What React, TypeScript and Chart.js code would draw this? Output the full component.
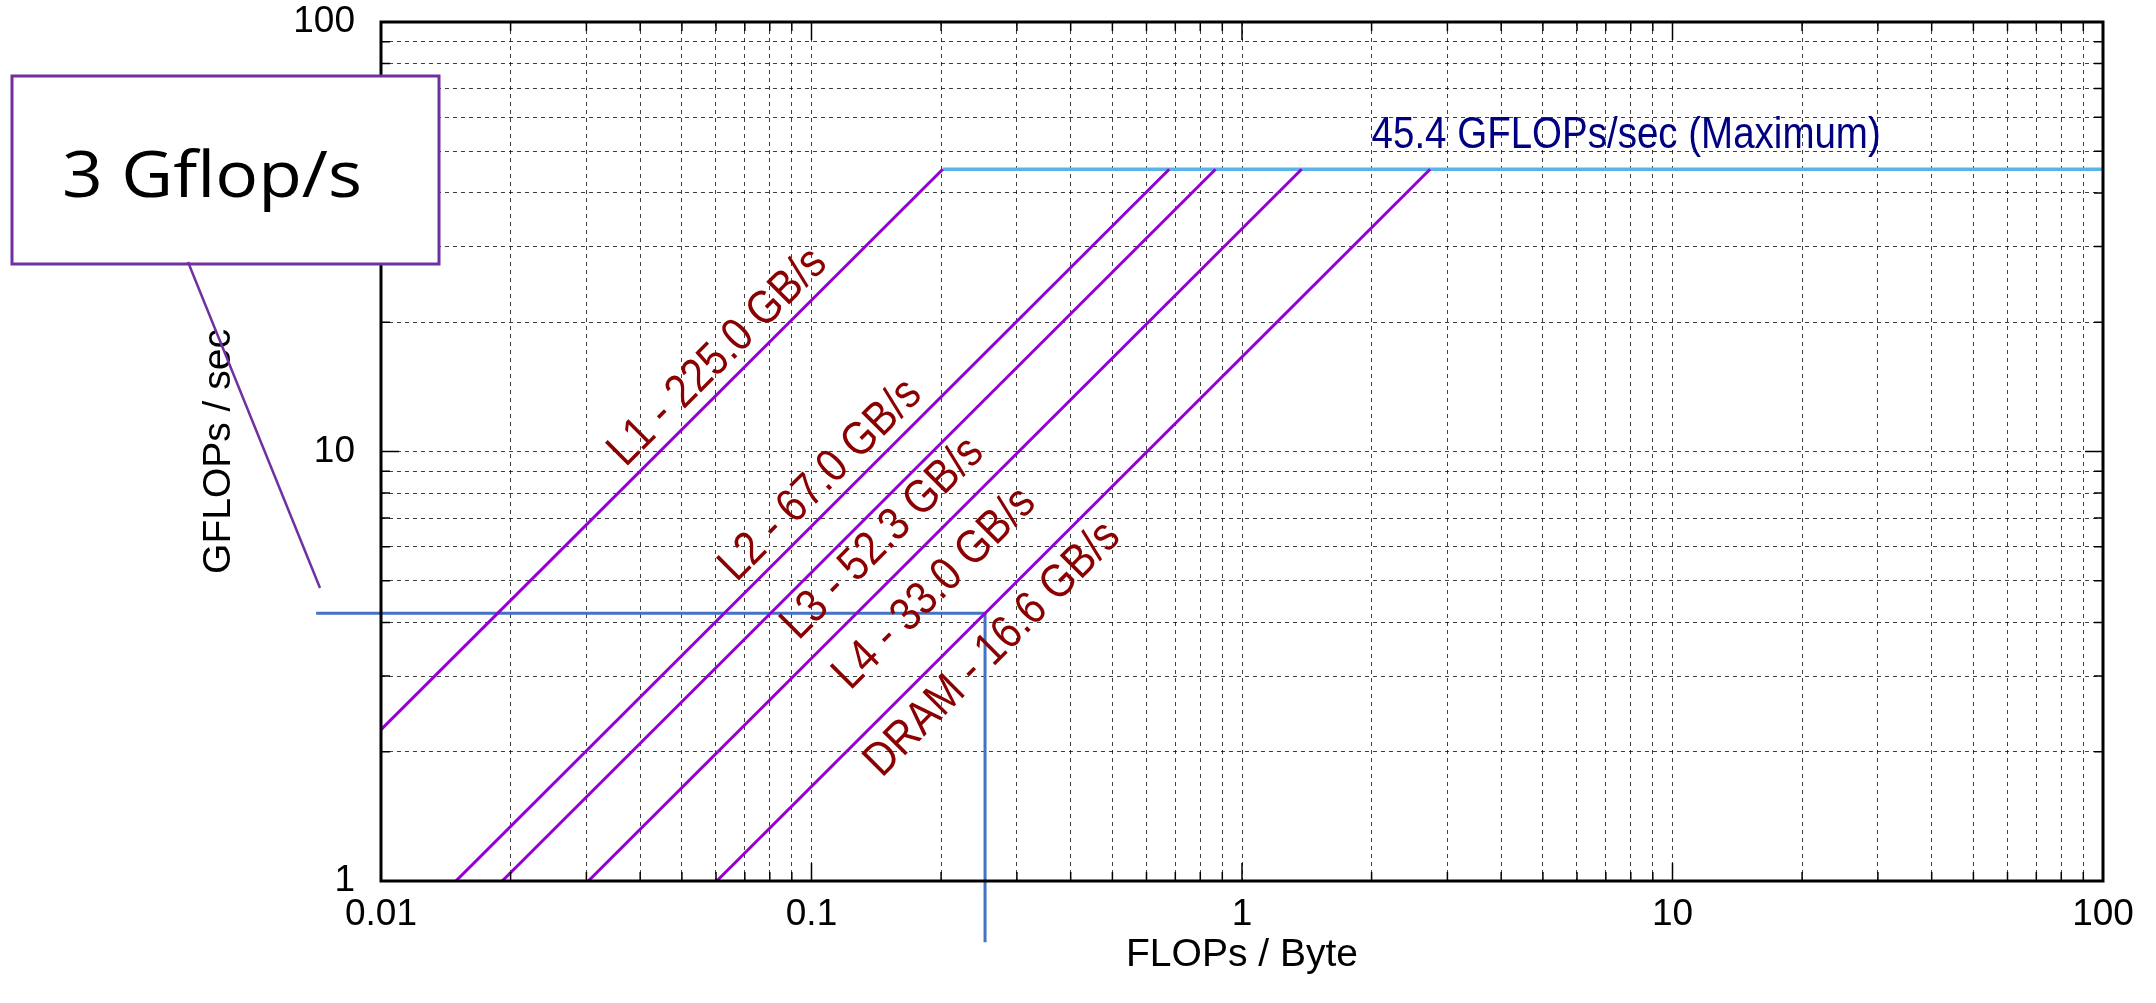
import { useEffect, useRef } from 'react';
import { Chart, registerables } from 'chart.js';

Chart.register(...registerables);

// ---- data ----
const levelNames = ['L1', 'L2', 'L3', 'L4', 'DRAM'];
const bandwidthsGBs = [225.0, 67.0, 52.3, 33.0, 16.6];
const peakGflops = 45.4;
const peakLabel = '45.4 GFLOPs/sec (Maximum)';
const peakLabelX = 2.0;
const peakLabelY = 54.2;
// label centers (data coords) for each roofline label
const roofLabelX = [0.0606, 0.1051, 0.1464, 0.1933, 0.2636];
const roofLabelY = [16.56, 8.56, 6.27, 4.79, 3.46];
// measured kernel marker (blue lines)
const probeX = [0.00707, 0.253, 0.253];
const probeY = [4.2, 4.2, 0.72];
const calloutText = '3 Gflop/s';

const xMin = 0.01;
const xMax = 100;
const yMin = 1;
const yMax = 100;
const xTickLabels = ['0.01', '0.1', '1', '10', '100'];
const yTickLabels = ['1', '10', '100'];
const xTitle = 'FLOPs / Byte';
const yTitle = 'GFLOPs / sec';

const FONT = "'Liberation Sans', Arial, Helvetica, sans-serif";
const TEXT_STRETCH = 1.15;

function logGridValues(minExp: number, maxExp: number): number[] {
  const vals: number[] = [];
  for (let e = minExp; e < maxExp; e++) {
    for (let m = 1; m <= 9; m++) vals.push(parseFloat(`${m}e${e}`));
  }
  vals.push(parseFloat(`1e${maxExp}`));
  return vals;
}

const xGrid = logGridValues(-2, 2);
const yGrid = logGridValues(0, 2);

const matchLabel = (v: number, labels: string[]) =>
  labels.findIndex((l) => Math.abs(parseFloat(l) - v) < 1e-9 * Math.max(1, v));

const framePlugin = {
  id: 'framePlugin',
  afterDraw(chart: any) {
    const { ctx, chartArea: a, scales } = chart;
    const xs = scales.x;
    const ys = scales.y;

    // roofline labels
    ctx.save();
    ctx.fillStyle = '#8B0000';
    ctx.font = `41px ${FONT}`;
    ctx.textAlign = 'center';
    ctx.textBaseline = 'middle';
    levelNames.forEach((name, i) => {
      const b = bandwidthsGBs[i];
      const p1x = xs.getPixelForValue(0.1);
      const p1y = ys.getPixelForValue(0.1 * b);
      const p2x = xs.getPixelForValue(1);
      const p2y = ys.getPixelForValue(1 * b);
      const ang = Math.atan2(p2y - p1y, p2x - p1x);
      const px = xs.getPixelForValue(roofLabelX[i]);
      const py = ys.getPixelForValue(roofLabelY[i]);
      ctx.save();
      ctx.translate(px, py);
      ctx.rotate(ang);
      ctx.scale(1, TEXT_STRETCH);
      ctx.fillText(`${name} - ${b.toFixed(1)} GB/s`, 0, 0);
      ctx.restore();
    });
    ctx.restore();

    // peak label
    ctx.save();
    ctx.fillStyle = '#000080';
    ctx.font = `38.5px ${FONT}`;
    ctx.textAlign = 'left';
    ctx.textBaseline = 'middle';
    ctx.translate(xs.getPixelForValue(peakLabelX), ys.getPixelForValue(peakLabelY));
    ctx.scale(1, TEXT_STRETCH);
    ctx.fillText(peakLabel, 0, 0);
    ctx.restore();

    // frame
    ctx.save();
    ctx.strokeStyle = '#000';
    ctx.lineWidth = 3;
    ctx.strokeRect(a.left, a.top, a.right - a.left, a.bottom - a.top);
    // inner tick marks
    ctx.lineWidth = 1.5;
    ctx.beginPath();
    xs.ticks.forEach((t: any) => {
      const X = xs.getPixelForValue(t.value);
      const len = matchLabel(t.value, xTickLabels) >= 0 ? 18 : 9;
      ctx.moveTo(X, a.bottom);
      ctx.lineTo(X, a.bottom - len);
      ctx.moveTo(X, a.top);
      ctx.lineTo(X, a.top + len);
    });
    ys.ticks.forEach((t: any) => {
      const Y = ys.getPixelForValue(t.value);
      const len = matchLabel(t.value, yTickLabels) >= 0 ? 18 : 9;
      ctx.moveTo(a.left, Y);
      ctx.lineTo(a.left + len, Y);
      ctx.moveTo(a.right, Y);
      ctx.lineTo(a.right - len, Y);
    });
    ctx.stroke();
    ctx.restore();

    // callout box (overlay annotation)
    ctx.save();
    ctx.fillStyle = '#ffffff';
    ctx.fillRect(12, 76, 427, 188);
    ctx.strokeStyle = '#7030A0';
    ctx.lineWidth = 3;
    ctx.strokeRect(12, 76, 427, 188);
    ctx.beginPath();
    ctx.lineWidth = 2.5;
    ctx.moveTo(188, 262);
    ctx.lineTo(320, 588);
    ctx.stroke();
    ctx.fillStyle = '#000';
    ctx.font = `64px 'Open Sans', 'Noto Sans', sans-serif`;
    ctx.textBaseline = 'alphabetic';
    ctx.textAlign = 'left';
    const w = ctx.measureText(calloutText).width;
    const targetW = 300;
    ctx.translate(62, 197);
    ctx.scale(targetW / w, 1);
    ctx.fillText(calloutText, 0, 0);
    ctx.restore();
  },
};

export default function App() {
  const ref = useRef<HTMLCanvasElement | null>(null);

  useEffect(() => {
    if (!ref.current) return;

    const roofDatasets = bandwidthsGBs.map((b, i) => {
      const sx = Math.max(xMin, yMin / b);
      return {
        label: levelNames[i],
        data: [
          { x: sx, y: b * sx },
          { x: peakGflops / b, y: peakGflops },
        ],
        borderColor: '#9400D3',
        borderWidth: 3,
        showLine: true,
        pointRadius: 0,
      };
    });
    const peakDataset = {
      label: 'peak',
      data: [
        { x: peakGflops / bandwidthsGBs[0], y: peakGflops },
        { x: xMax, y: peakGflops },
      ],
      borderColor: '#56B4E9',
      borderWidth: 3.5,
      showLine: true,
      pointRadius: 0,
    };
    const probeDataset = {
      label: 'probe',
      data: probeX.map((x, i) => ({ x, y: probeY[i] })),
      borderColor: '#4472C4',
      borderWidth: 3,
      showLine: true,
      pointRadius: 0,
      clip: false as any,
    };

    const chart = new Chart(ref.current, {
      type: 'scatter',
      data: { datasets: [...roofDatasets, peakDataset, probeDataset] as any },
      options: {
        responsive: false,
        animation: false,
        events: [],
        layout: { padding: { left: 0, top: 0, right: 53, bottom: 0 } },
        plugins: { legend: { display: false }, tooltip: { enabled: false } },
        scales: {
          x: {
            type: 'logarithmic',
            position: 'bottom',
            min: xMin,
            max: xMax,
            afterBuildTicks: (s: any) => {
              s.ticks = xGrid.map((v) => ({ value: v }));
            },
            afterFit: (s: any) => {
              s.height = 122;
            },
            ticks: {
              autoSkip: false,
              maxRotation: 0,
              padding: 12,
              color: '#000',
              font: { family: FONT, size: 37 },
              callback: (v: any) => {
                const idx = matchLabel(v, xTickLabels);
                return idx >= 0 ? xTickLabels[idx] : '';
              },
            },
            grid: {
              color: 'rgba(0,0,0,0.75)',
              lineWidth: 1,
              drawTicks: false,
              borderDash: [4, 4],
            } as any,
            border: { display: false, dash: [4, 4] },
            title: {
              display: true,
              text: xTitle,
              color: '#000',
              font: { family: FONT, size: 39 },
              padding: { top: 0, bottom: 24 },
            },
          },
          y: {
            type: 'logarithmic',
            position: 'left',
            min: yMin,
            max: yMax,
            afterBuildTicks: (s: any) => {
              s.ticks = yGrid.map((v) => ({ value: v }));
            },
            afterFit: (s: any) => {
              s.width = 381;
              s.paddingTop = 22;
              s.paddingBottom = 0;
            },
            ticks: {
              autoSkip: false,
              padding: 26,
              color: '#000',
              font: { family: FONT, size: 37 },
              callback: (v: any) => {
                const idx = matchLabel(v, yTickLabels);
                return idx >= 0 ? yTickLabels[idx] : '';
              },
            },
            grid: {
              color: 'rgba(0,0,0,0.75)',
              lineWidth: 1,
              drawTicks: false,
              borderDash: [4, 4],
            } as any,
            border: { display: false, dash: [4, 4] },
            title: {
              display: true,
              text: yTitle,
              color: '#000',
              font: { family: FONT, size: 39 },
              padding: { top: 196, bottom: 0 },
            },
          },
        },
      },
      plugins: [framePlugin],
    });
    return () => chart.destroy();
  }, []);

  return (
    <div style={{ position: 'fixed', left: 0, top: 0, width: 2156, height: 1003, background: '#fff' }}>
      <canvas ref={ref} width={2156} height={1003} style={{ display: 'block' }} />
    </div>
  );
}
